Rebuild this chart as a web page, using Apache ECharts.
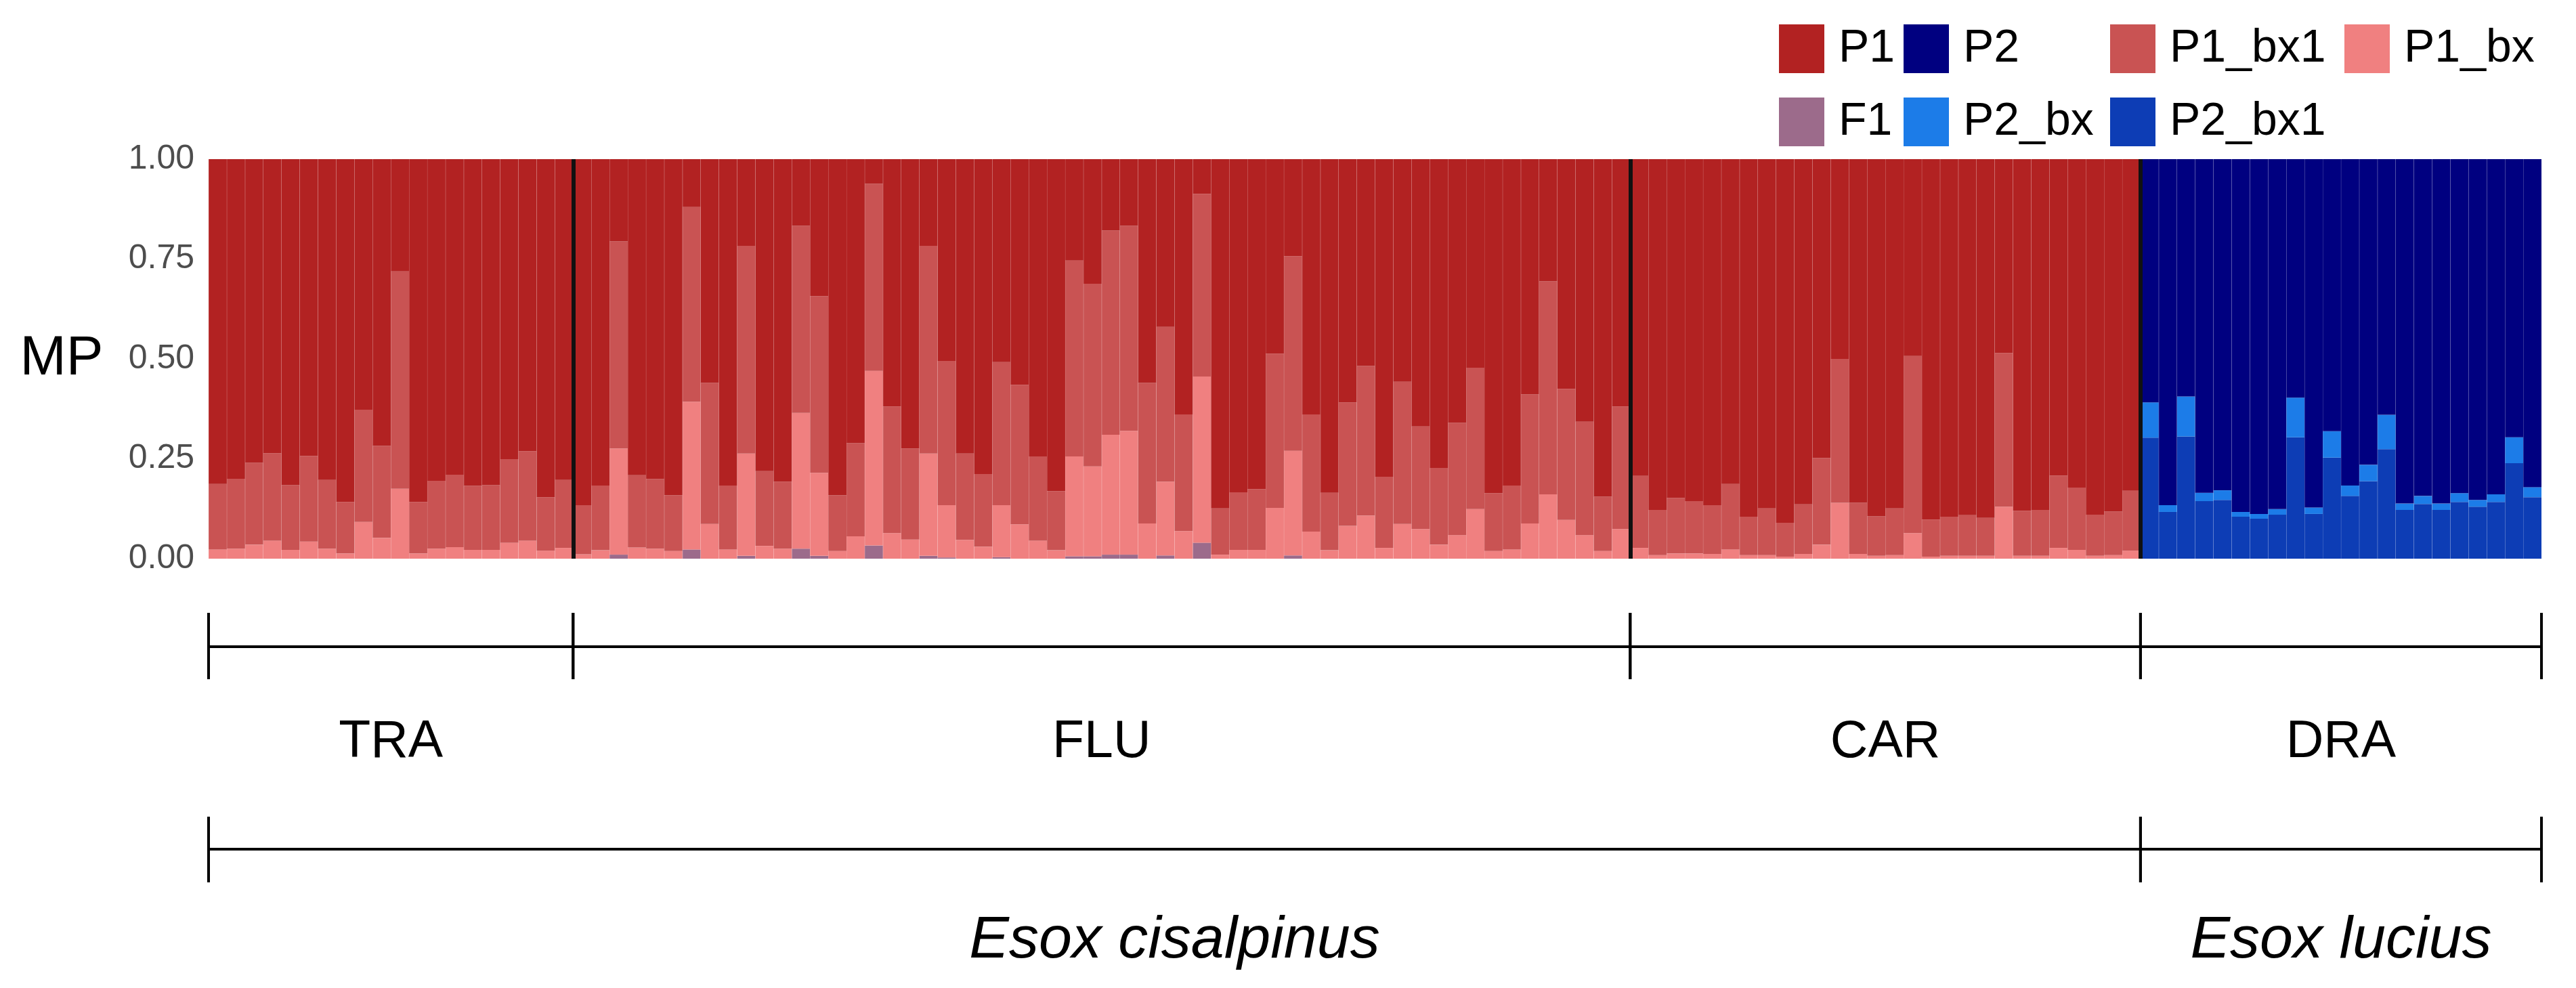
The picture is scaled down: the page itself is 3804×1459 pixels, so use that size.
<!DOCTYPE html>
<html>
<head>
<meta charset="utf-8">
<script src="https://cdn.jsdelivr.net/npm/echarts@6/dist/echarts.min.js"></script>
<style>
html, body { margin: 0; padding: 0; background: #fff; }
#structure { width: 3804px; height: 1459px; }
</style>
</head>
<body>
<div id="structure"></div>
<script>
// populations and species (number of individuals in each, left to right)
var group_names = ['TRA', 'FLU', 'CAR', 'DRA'];
var group_sizes = [20, 58, 28, 22];
var species_names = ['Esox cisalpinus', 'Esox lucius'];
var species_sizes = [106, 22];

// Esox cisalpinus individuals: TRA (20), FLU (58), CAR (28)
var cis_f1 = [
    0, 0, 0, 0, 0, 0, 0, 0, 0, 0, 0, 0, 0, 0, 0, 0, 0, 0, 0, 0,
    0, 0, .010, 0, 0, 0, .023, 0, 0, .007, 0, 0, .025, .007, 0, 0, .033, 0, 0, .007,
    .003, 0, 0, .004, 0, 0, 0, .006, .006, .010, .010, 0, .008, 0, .040, 0, 0, 0, 0, .008,
    0, 0, 0, 0, 0, 0, 0, 0, 0, 0, 0, 0, 0, 0, 0, 0, 0, 0,
    0, 0, 0, 0, 0, 0, 0, 0, 0, 0, 0, 0, 0, 0, 0, 0, 0, 0, 0, 0, 0, 0, 0, 0, 0, 0, 0, 0
];
var cis_p1_bx = [
    .023, .025, .035, .045, .022, .043, .025, .013, .092, .052, .175, .013, .025, .029, .022, .022, .040, .045, .020, .027,
    .011, .021, .266, .028, .025, .019, .370, .087, .023, .256, .032, .025, .340, .208, .019, .056, .437, .064, .048, .256,
    .131, .047, .030, .130, .086, .045, .021, .250, .225, .300, .310, .088, .185, .069, .416, .010, .022, .022, .127, .262,
    .068, .021, .082, .108, .027, .087, .074, .035, .059, .124, .019, .023, .088, .161, .097, .059, .019, .074,
    .027, .009, .013, .013, .012, .023, .009, .009, .005, .012, .035, .140, .012, .007, .009, .064, .005, .007, .007, .007,
    .130, .007, .007, .027, .022, .007, .009, .020
];
var cis_p1_bx1 = [
    .164, .175, .205, .219, .162, .214, .172, .129, .281, .230, .544, .129, .170, .181, .160, .162, .209, .224, .134, .170,
    .123, .162, .518, .181, .174, .140, .487, .353, .160, .520, .187, .168, .468, .442, .140, .233, .468, .317, .228, .520,
    .361, .216, .182, .358, .349, .211, .148, .490, .457, .511, .513, .352, .387, .292, .457, .116, .144, .152, .386, .487,
    .293, .144, .309, .374, .178, .356, .257, .192, .281, .354, .145, .160, .323, .533, .328, .284, .136, .307,
    .180, .113, .139, .131, .122, .164, .096, .117, .085, .124, .217, .360, .128, .099, .117, .443, .093, .098, .102, .095,
    .385, .113, .115, .181, .156, .103, .109, .150
];
var cis_p1 = [
    .813, .800, .760, .736, .816, .743, .803, .858, .627, .718, .281, .858, .805, .790, .818, .816, .751, .731, .846, .803,
    .866, .817, .206, .791, .801, .841, .120, .560, .817, .217, .781, .807, .167, .343, .841, .711, .062, .619, .724, .217,
    .505, .737, .788, .508, .565, .744, .831, .254, .312, .179, .167, .560, .420, .639, .087, .874, .834, .826, .487, .243,
    .639, .835, .609, .518, .795, .557, .669, .773, .660, .522, .836, .817, .589, .306, .575, .657, .845, .619,
    .793, .878, .848, .856, .866, .813, .895, .874, .910, .864, .748, .500, .860, .894, .874, .493, .902, .895, .891, .898,
    .485, .880, .878, .792, .822, .890, .882, .830
];

// Esox lucius individuals: DRA (22)
var luc_p2_bx1 = [.303, .117, .306, .144, .147, .105, .100, .110, .304, .112, .253, .157, .194, .274, .122, .137, .122, .142, .130, .142, .239, .154];
var luc_p2_bx = [.088, .017, .100, .021, .024, .012, .012, .014, .099, .016, .066, .026, .041, .086, .016, .020, .016, .022, .017, .019, .065, .025];
var luc_p2 = [.609, .866, .594, .835, .829, .883, .888, .876, .597, .872, .681, .817, .765, .640, .862, .843, .862, .836, .853, .839, .696, .821];

var font = "'Liberation Sans', Arial, sans-serif";

function zeros(n) {
    var a = [];
    for (var i = 0; i < n; i++)
        a.push(0);
    return a;
}

function spans(sizes) {
    var out = [], x = 0;
    for (var i = 0; i < sizes.length; i++) {
        out.push([x, x + sizes[i]]);
        x += sizes[i];
    }
    return out;
}

// horizontal bracket with end ticks and a centred label, drawn under the plot
function bracket(names, line_off, tick_up, tick_down, label_off, label_style) {
    return function(params, api) {
        var x0 = api.coord([api.value(0), 0])[0];
        var x1 = api.coord([api.value(1), 0])[0];
        var base = params.coordSys.y + params.coordSys.height;
        var y = base + line_off;
        var stroke = { stroke: '#000', lineWidth: 4 };
        return {
            type: 'group',
            children: [
                { type: 'line', shape: { x1: x0, y1: y, x2: x1, y2: y }, style: stroke },
                { type: 'line', shape: { x1: x0, y1: y - tick_up, x2: x0, y2: y + tick_down }, style: stroke },
                { type: 'line', shape: { x1: x1, y1: y - tick_up, x2: x1, y2: y + tick_down }, style: stroke },
                {
                    type: 'text',
                    style: Object.assign({
                        text: names[params.dataIndex],
                        x: (x0 + x1) / 2,
                        y: base + label_off,
                        align: 'center',
                        verticalAlign: 'middle',
                        fontFamily: font,
                        fill: '#000'
                    }, label_style)
                }
            ]
        };
    };
}

var n_cis = cis_p1.length;
var n_luc = luc_p2.length;
var individuals = [];
for (var i = 0; i < n_cis + n_luc; i++)
    individuals.push(String(i + 1));

var stack_order = [
    ['F1', '#9C6B8B', cis_f1.concat(zeros(n_luc))],
    ['P1_bx', '#F08080', cis_p1_bx.concat(zeros(n_luc))],
    ['P1_bx1', '#C95353', cis_p1_bx1.concat(zeros(n_luc))],
    ['P2_bx1', '#0D3DB5', zeros(n_cis).concat(luc_p2_bx1)],
    ['P2_bx', '#1C7CE8', zeros(n_cis).concat(luc_p2_bx)],
    ['P1', '#B22222', cis_p1.concat(zeros(n_luc))],
    ['P2', '#000080', zeros(n_cis).concat(luc_p2)]
];

var group_spans = spans(group_sizes);
var boundaries = [];
for (var i = 1; i < group_spans.length; i++)
    boundaries.push({ xAxis: group_spans[i][0] });

function legend_column(items, left) {
    return {
        data: items,
        left: left,
        top: 36,
        orient: 'vertical',
        icon: 'rect',
        itemWidth: 67,
        itemHeight: 72,
        itemGap: 36,
        padding: 0,
        selectedMode: false,
        textStyle: {
            fontSize: 68,
            lineHeight: 72,
            color: '#000',
            fontFamily: font,
            padding: [0, 0, 0, 16]
        }
    };
}

var option = {
    animation: false,
    textStyle: { fontFamily: font },
    legend: [
        legend_column(['P1', 'F1'], 2627),
        legend_column(['P2', 'P2_bx'], 2811),
        legend_column(['P1_bx1', 'P2_bx1'], 3116),
        legend_column(['P1_bx'], 3462)
    ],
    grid: {
        left: 308,
        right: 51,
        top: 235,
        height: 590
    },
    xAxis: [{
        type: 'category',
        data: individuals,
        show: false
    }, {
        // overlay axis: thin separators between individuals
        type: 'value',
        min: 0,
        max: n_cis + n_luc,
        interval: 1,
        z: 5,
        axisLine: { show: false },
        axisTick: { show: false },
        axisLabel: { show: false },
        splitLine: {
            show: true,
            lineStyle: { color: 'rgba(255,255,255,0.12)', width: 1 }
        }
    }],
    yAxis: {
        type: 'value',
        min: 0,
        max: 1,
        interval: 0.25,
        name: 'MP',
        nameLocation: 'middle',
        nameRotate: 0,
        nameGap: 217,
        nameTextStyle: { fontSize: 82, color: '#000', align: 'center', fontFamily: font },
        axisLine: { show: false },
        axisTick: { show: false },
        splitLine: { show: false },
        axisLabel: {
            fontSize: 50,
            color: '#4d4d4d',
            margin: 21,
            fontFamily: font,
            formatter: function(v) { return v.toFixed(2); }
        }
    },
    series: []
};

for (var i = 0; i < stack_order.length; i++) {
    option.series.push({
        name: stack_order[i][0],
        type: 'bar',
        stack: 'mp',
        barCategoryGap: '0%',
        itemStyle: { color: stack_order[i][1] },
        data: stack_order[i][2]
    });
}

option.series.push({
    type: 'custom',
    name: 'populations',
    xAxisIndex: 1,
    z: 10,
    silent: true,
    encode: { x: [0, 1] },
    renderItem: bracket(group_names, 130, 50, 48, 272, { fontSize: 77 }),
    data: group_spans,
    markLine: {
        silent: true,
        symbol: ['none', 'none'],
        label: { show: false },
        lineStyle: { color: '#111', width: 6, type: 'solid' },
        data: boundaries
    }
});

option.series.push({
    type: 'custom',
    name: 'species',
    xAxisIndex: 1,
    z: 10,
    silent: true,
    encode: { x: [0, 1] },
    renderItem: bracket(species_names, 429, 48, 49, 565, { fontSize: 88, fontStyle: 'italic' }),
    data: spans(species_sizes)
});

var structure = echarts.init(document.getElementById('structure'));
structure.setOption(option);
</script>
</body>
</html>
